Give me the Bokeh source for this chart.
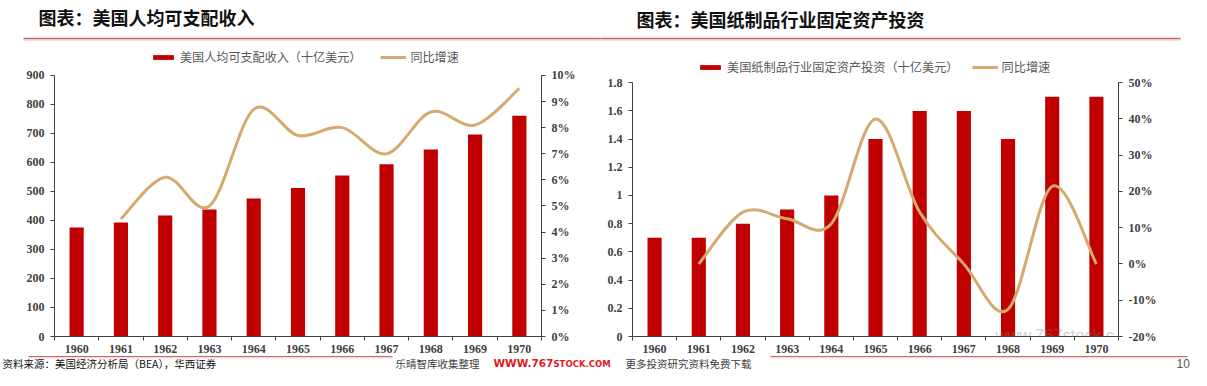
from bokeh.plotting import figure
from bokeh.models import (Range1d, LinearAxis, FixedTicker, NumeralTickFormatter,
                          Legend, LegendItem, Label)
from bokeh.layouts import row, column
from bokeh.core.properties import value
from bokeh.embed import file_html
from bokeh.resources import INLINE

# ---------------- data ----------------
years = ["1960", "1961", "1962", "1963", "1964", "1965", "1966", "1967", "1968", "1969", "1970"]
income = [376, 393, 417, 438, 476, 512, 555, 594, 645, 696, 761]           # 十亿美元
income_growth = [4.5, 6.1, 5.0, 8.7, 7.7, 8.0, 7.0, 8.6, 8.1, 9.5]          # %, 1961-1970
paper_invest = [0.7, 0.7, 0.8, 0.9, 1.0, 1.4, 1.6, 1.6, 1.4, 1.7, 1.7]       # 十亿美元
paper_growth = [0.0, 14.3, 12.5, 11.1, 40.0, 14.3, 0.0, -12.5, 21.4, 0.0]    # %, 1961-1970

left_ticks = [0, 100, 200, 300, 400, 500, 600, 700, 800, 900]
left_pct_ticks = [0, 0.01, 0.02, 0.03, 0.04, 0.05, 0.06, 0.07, 0.08, 0.09, 0.10]
right_ticks = [0, 0.2, 0.4, 0.6, 0.8, 1.0, 1.2, 1.4, 1.6, 1.8]
right_pct_ticks = [-0.2, -0.1, 0, 0.1, 0.2, 0.3, 0.4, 0.5]

title_left = "图表：美国人均可支配收入"
title_right = "图表：美国纸制品行业固定资产投资"
legend_left = "美国人均可支配收入（十亿美元）"
legend_right = "美国纸制品行业固定资产投资（十亿美元）"
legend_growth = "同比增速"
source_text = "资料来源：美国经济分析局（BEA），华西证券"

# ---------------- style ----------------
BAR = "#C00000"
LINE = "#D4AA6E"
AXIS = "#404040"
LABEL = "#404040"
CJK = value("Noto Sans CJK SC")
SERIF = "Liberation Serif"


def smooth_segments(xs, ys):
    """Catmull-Rom style control points for Bezier segments (Excel-like smoothing)."""
    n = len(xs)
    out = dict(x0=[], y0=[], x1=[], y1=[], cx0=[], cy0=[], cx1=[], cy1=[])
    for i in range(n - 1):
        xp, yp = (xs[i - 1], ys[i - 1]) if i > 0 else (xs[i], ys[i])
        xn, yn = (xs[i + 2], ys[i + 2]) if i + 2 < n else (xs[i + 1], ys[i + 1])
        out["x0"].append(xs[i]); out["y0"].append(ys[i])
        out["x1"].append(xs[i + 1]); out["y1"].append(ys[i + 1])
        out["cx0"].append(xs[i] + (xs[i + 1] - xp) / 6)
        out["cy0"].append(ys[i] + (ys[i + 1] - yp) / 6)
        out["cx1"].append(xs[i + 1] - (xn - xs[i]) / 6)
        out["cy1"].append(ys[i + 1] - (yn - ys[i]) / 6)
    return out


def style_axis(ax, size="12px"):
    ax.axis_line_color = AXIS
    ax.major_tick_line_color = AXIS
    ax.minor_tick_line_color = None
    ax.major_tick_out = 4
    ax.major_tick_in = 0
    ax.major_label_standoff = 6
    ax.major_label_text_font = SERIF
    ax.major_label_text_font_style = "bold"
    ax.major_label_text_font_size = size
    ax.major_label_text_color = LABEL


def make_chart(width, height, borders, axis_px, bar_vals, y_lim, y_ticks, y_fmt,
               pct_vals, pct_lim, pct_ticks, bar_label, legend_loc, legend_font,
               legend_spacing, x_standoff):
    """borders = (left, right, top, bottom); the frame reaches above the axes'
    top value (axis_px tall part carries the scale) so that the legend sits inside it."""
    idx = list(range(len(years)))
    frame_h = height - borders[2] - borders[3]
    ext = frame_h / axis_px
    p = figure(width=width, height=height,
               x_range=Range1d(-0.5, len(years) - 0.5),
               y_range=Range1d(y_lim[0], y_lim[0] + (y_lim[1] - y_lim[0]) * ext),
               output_backend="svg", toolbar_location=None,
               min_border_left=borders[0], min_border_right=borders[1],
               min_border_top=borders[2], min_border_bottom=borders[3],
               outline_line_color=None, background_fill_color="white",
               border_fill_color="white")
    p.grid.visible = False
    p.extra_y_ranges = {"pct": Range1d(pct_lim[0], pct_lim[0] + (pct_lim[1] - pct_lim[0]) * ext)}

    # x axis: labels under bars, tick marks between categories
    xa = p.xaxis[0]
    style_axis(xa)
    xa.ticker = FixedTicker(ticks=idx, minor_ticks=[i - 0.5 for i in range(len(years) + 1)])
    xa.major_label_overrides = {i: y for i, y in enumerate(years)}
    xa.major_tick_out = 0
    xa.minor_tick_line_color = AXIS
    xa.minor_tick_out = 4
    xa.minor_tick_in = 0
    xa.major_label_standoff = x_standoff

    ya = p.yaxis[0]
    style_axis(ya)
    ya.ticker = FixedTicker(ticks=y_ticks)
    ya.formatter = NumeralTickFormatter(format=y_fmt)
    ya.bounds = y_lim

    ra = LinearAxis(y_range_name="pct")
    style_axis(ra)
    ra.ticker = FixedTicker(ticks=pct_ticks)
    ra.formatter = NumeralTickFormatter(format="0%")
    ra.bounds = pct_lim
    p.add_layout(ra, "right")

    bars = p.vbar(x=idx, top=bar_vals, width=0.32, fill_color=BAR, line_color=None)

    seg = smooth_segments(idx[1:], [v / 100 for v in pct_vals])
    curve = p.bezier(**seg, line_color=LINE, line_width=3, y_range_name="pct")

    legend = Legend(items=[LegendItem(label=bar_label, renderers=[bars]),
                           LegendItem(label=legend_growth, renderers=[curve])],
                    location=legend_loc, orientation="horizontal",
                    glyph_width=26, glyph_height=6, label_height=16, label_width=10,
                    label_standoff=4, spacing=legend_spacing, padding=0, margin=0,
                    border_line_color=None, background_fill_alpha=0,
                    label_text_font="Noto Sans CJK SC", label_text_font_size=legend_font,
                    label_text_color="#595959", label_text_baseline="middle")
    p.add_layout(legend)
    return p


TOP_H, CH, BOT_H = 41, 314, 15
# both frames (aligned by the row): canvas y 49..337
left = make_chart(600, CH, (54, 59, 8, 18), 262, income, (0, 900), left_ticks, "0",
                  income_growth, (0, 0.10), left_pct_ticks, legend_left,
                  (96, 271), "12.1px", 19, 4)
right = make_chart(591, CH, (32, 73, 8, 18), 254.7, paper_invest, (0, 1.8), right_ticks,
                   "0.[0]", paper_growth, (-0.2, 0.5), right_pct_ticks, legend_right,
                   (65, 260), "12.2px", 13, 4)

# faint site watermark inside the right plot area
right.add_layout(Label(x=363, y=2, x_units="screen", y_units="screen",
                       text="www.767stock.c", text_font="Liberation Sans",
                       text_font_size="16.5px", text_color="#808080", text_alpha=0.4,
                       text_baseline="alphabetic"))


def deco_fig(width, height):
    f = figure(width=width, height=height, x_range=Range1d(0, width), y_range=Range1d(height, 0),
               output_backend="svg", toolbar_location=None, x_axis_type=None, y_axis_type=None,
               min_border=0, min_border_left=0, min_border_right=0, min_border_top=0,
               min_border_bottom=0, outline_line_color=None)
    f.grid.visible = False
    return f


top = deco_fig(1191, TOP_H)
top.text(x=[38], y=[16.5], text=[title_left], text_font=CJK, text_font_style="bold",
         text_font_size="18px", text_baseline="middle", text_color="#111111")
top.text(x=[636], y=[18.5], text=[title_right], text_font=CJK, text_font_style="bold",
         text_font_size="18px", text_baseline="middle", text_color="#111111")
top.segment(x0=[23, 600], y0=[40, 40], x1=[600, 1180], y1=[40, 40],
            line_color="#E6E6E6", line_width=2.5)
top.segment(x0=[23, 600], y0=[38, 38], x1=[600, 1180], y1=[38, 38],
            line_color="#D96060", line_width=1.5)

bottom = deco_fig(1191, BOT_H)
bottom.segment(x0=[28, 770], y0=[2.2, 2.2], x1=[392, 1187], y1=[2.2, 2.2],
               line_color="#E4E4E4", line_width=1.5)
bottom.segment(x0=[28, 770], y0=[1, 1], x1=[392, 1187], y1=[1, 1],
               line_color="#D96060", line_width=1.2)
bottom.text(x=[2], y=[7.6], text=[source_text], text_font=CJK, text_font_size="10.5px",
            text_baseline="middle", text_color="#111111")
bottom.text(x=[395], y=[7.6], text=["乐晴智库收集整理"], text_font=CJK, text_font_size="10.5px",
            text_baseline="middle", text_color="#404040")
bottom.text(x=[493], y=[7.3], text=["WWW.767"], text_font=value("DejaVu Sans"),
            text_font_style="bold", text_font_size="10.5px", text_baseline="middle",
            text_color="#E0191C")
bottom.text(x=[553], y=[8.0], text=["STOCK.COM"], text_font=value("DejaVu Sans"),
            text_font_style="bold", text_font_size="8.5px", text_baseline="middle",
            text_color="#E0191C")
bottom.text(x=[625], y=[7.6], text=["更多投资研究资料免费下载"], text_font=CJK,
            text_font_size="10.5px", text_baseline="middle", text_color="#404040")
bottom.text(x=[1176], y=[7.6], text=["10"], text_font=value("Liberation Sans"),
            text_font_size="12px", text_baseline="middle", text_color="#595959")

layout = column(top, row(left, right, spacing=0), bottom, spacing=0)

open("out.html", "w").write(file_html(layout, INLINE))
